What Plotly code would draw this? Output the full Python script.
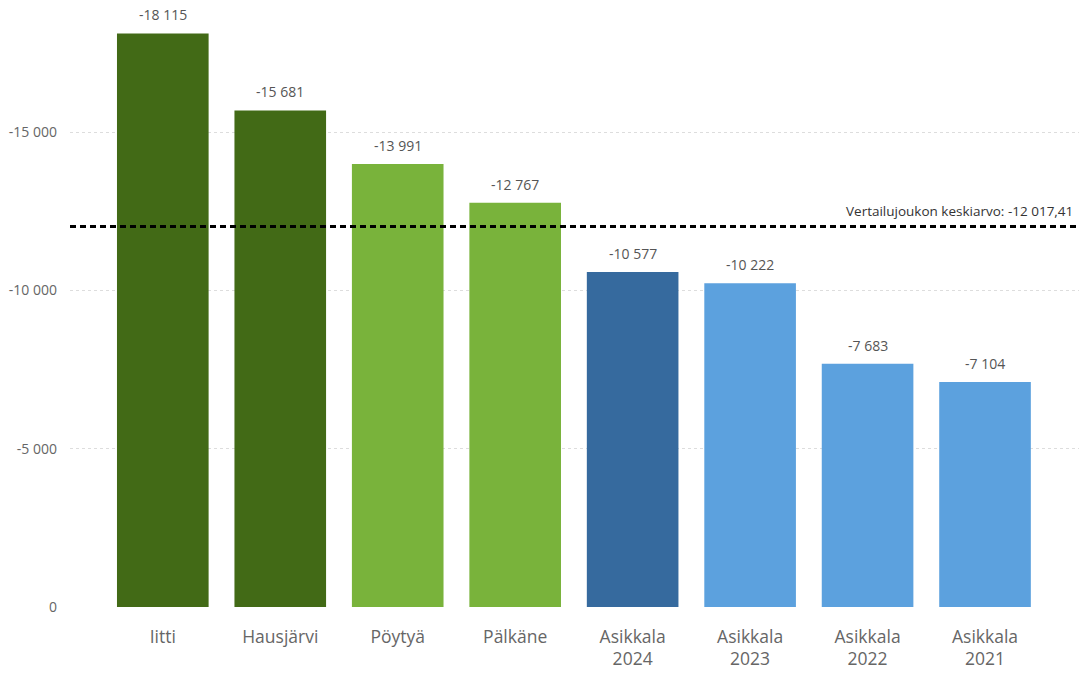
import plotly.graph_objects as go

# --------------------------------------
# Data
# --------------------------------------
categories = ["Iitti", "Hausjärvi", "Pöytyä", "Pälkäne",
              "Asikkala<br>2024", "Asikkala<br>2023", "Asikkala<br>2022", "Asikkala<br>2021"]
values = [-18115, -15681, -13991, -12767, -10577, -10222, -7683, -7104]
bar_colors = ["#426A16", "#426A16", "#79B33B", "#79B33B",
              "#366A9E", "#5CA1DE", "#5CA1DE", "#5CA1DE"]
average = -12017.41
y_ticks = [0, -5000, -10000, -15000]


def fi_num(v):
    # Finnish style: space as thousands separator
    return f"{v:,}".replace(",", " ")


fig = go.Figure()

fig.add_trace(go.Bar(
    x=list(range(len(categories))),
    y=values,
    marker=dict(color=bar_colors, line=dict(width=0)),
    width=0.78,
    hoverinfo="skip",
))

# average line across the whole plot
fig.add_shape(
    type="line", xref="paper", yref="y",
    x0=0, x1=1, y0=average, y1=average,
    line=dict(color="black", width=3, dash="6px,4px"),
)

annotations = []
for i, v in enumerate(values):
    annotations.append(dict(
        x=i, y=v, xref="x", yref="y", text=fi_num(v),
        showarrow=False, yanchor="bottom", yshift=7,
        font=dict(size=14, color="#555555"),
    ))

annotations.append(dict(
    x=0.996, y=average, xref="paper", yref="y",
    text="Vertailujoukon keskiarvo: " + f"{average:,.2f}".replace(",", " ").replace(".", ","),
    showarrow=False, xanchor="right", yanchor="bottom", yshift=4,
    font=dict(size=13.5, color="#333333"),
))

fig.update_layout(
    width=1079,
    height=674,
    margin=dict(l=70, r=0, t=0, b=67),
    paper_bgcolor="white",
    plot_bgcolor="white",
    font=dict(family="Open Sans, Segoe UI, sans-serif"),
    showlegend=False,
    annotations=annotations,
    xaxis=dict(
        tickmode="array",
        tickvals=list(range(len(categories))),
        ticktext=categories,
        range=[-0.79, 7.8],
        showgrid=False,
        zeroline=False,
        showline=False,
        ticks="",
        ticklabelstandoff=17,
        tickfont=dict(size=17.5, color="#666666"),
    ),
    yaxis=dict(
        range=[0, -19170],
        tickmode="array",
        tickvals=y_ticks,
        ticktext=[fi_num(t) for t in y_ticks],
        showgrid=True,
        gridcolor="#DDDDDD",
        griddash="dot",
        gridwidth=1,
        zeroline=False,
        showline=False,
        ticks="",
        ticklabelstandoff=12,
        tickfont=dict(size=14, color="#666666"),
    ),
)

fig.write_html("out.html", config={"displayModeBar": False},
               post_script="document.body.style.margin='0px';")
